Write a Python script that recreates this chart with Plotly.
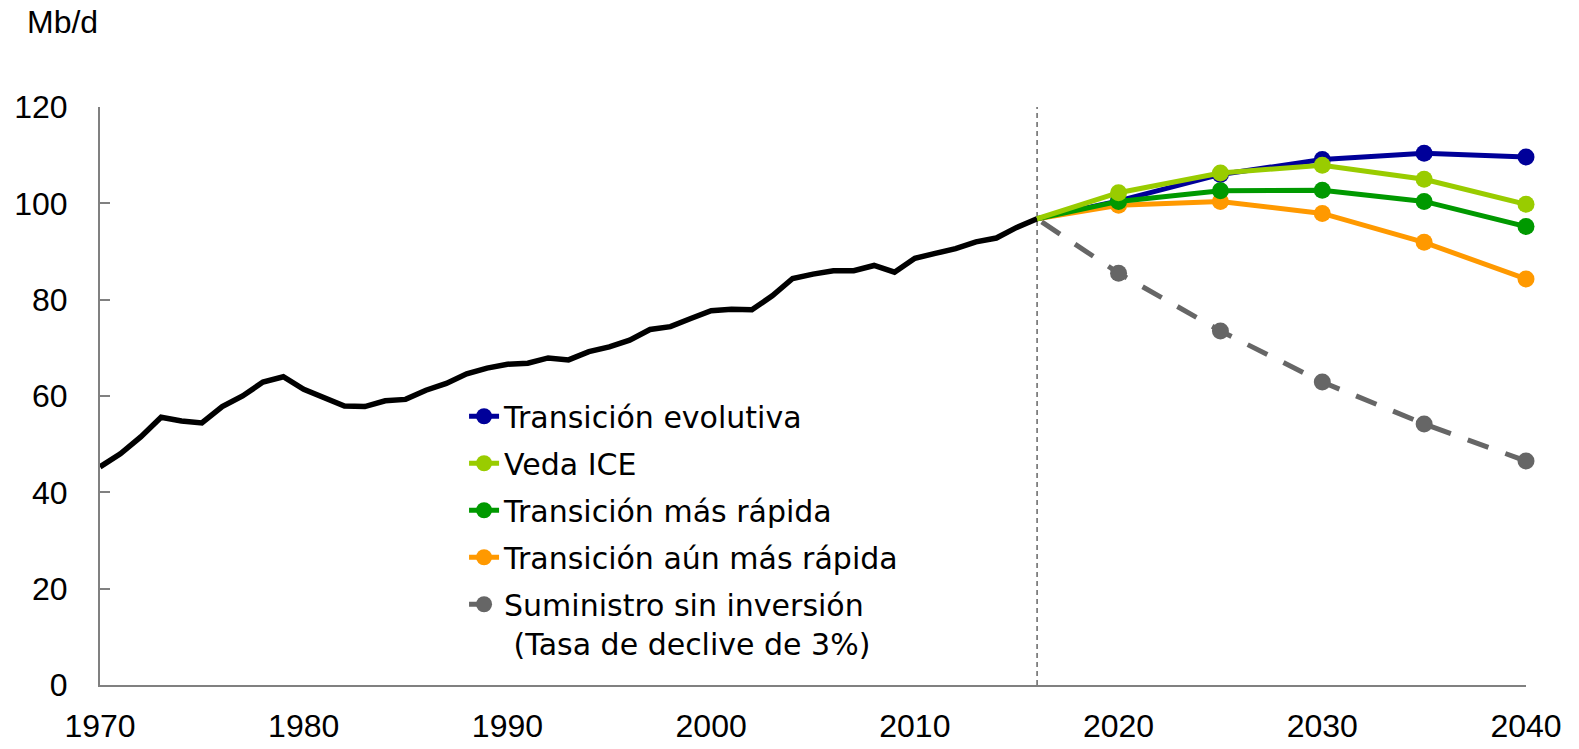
import plotly.graph_objects as go

hist_years = list(range(1970, 2017))
hist_values = [45.3, 48.0, 51.5, 55.6, 54.8, 54.4, 57.8, 60.0, 62.9, 64.0,
               61.4, 59.5, 57.9, 57.8, 59.0, 59.3, 61.2, 62.6, 64.6, 65.8,
               66.6, 66.8, 67.9, 67.5, 69.2, 70.2, 71.6, 73.8, 74.4, 76.1,
               77.7, 78.0, 77.9, 80.8, 84.4, 85.3, 86.0, 86.0, 87.1, 85.7,
               88.6, 89.6, 90.6, 92.0, 92.8, 95.0, 96.8]

proj_years = [2016, 2020, 2025, 2030, 2035, 2040]
evolutiva = [96.8, 100.5, 106.0, 109.1, 110.4, 109.6]
veda_ice = [96.8, 102.2, 106.3, 107.9, 105.0, 99.8]
mas_rapida = [96.8, 100.4, 102.6, 102.7, 100.4, 95.2]
aun_mas_rapida = [96.8, 99.6, 100.4, 97.9, 91.9, 84.3]
sin_inversion = [96.8, 85.5, 73.5, 62.9, 54.2, 46.5]

series_names = ["Transición evolutiva", "Veda ICE", "Transición más rápida",
                "Transición aún más rápida",
                "Suministro sin inversión<br> (Tasa de declive de 3%)"]
series_values = [evolutiva, veda_ice, mas_rapida, aun_mas_rapida, sin_inversion]
series_colors = ["#000099", "#99CC00", "#009900", "#FF9900", "#666666"]

x_ticks = [1970, 1980, 1990, 2000, 2010, 2020, 2030, 2040]
y_ticks = [0, 20, 40, 60, 80, 100, 120]

fig = go.Figure()

fig.add_trace(go.Scatter(x=hist_years, y=hist_values, mode="lines",
                         line=dict(color="black", width=5.5), showlegend=False,
                         cliponaxis=False))

# draw order: grey first so coloured lines sit on top; legend order via legendrank
order = [4, 0, 3, 2, 1]
for i in order:
    color = series_colors[i]
    dash = "22px,18px" if i == 4 else "solid"
    # reversed so the legend takes its marker colour from a visible point;
    # the start year (last here) carries no visible marker
    xs = proj_years[::-1]
    ys = series_values[i][::-1]
    mcolors = [color] * (len(xs) - 1) + ["rgba(0,0,0,0)"]
    fig.add_trace(go.Scatter(
        x=xs, y=ys, mode="lines+markers",
        name=series_names[i], legendrank=i + 1, legendgroup=f"g{i}",
        line=dict(color=color, width=5, dash=dash),
        marker=dict(color=mcolors, size=17, opacity=1, line=dict(width=0)),
        cliponaxis=False))

fig.add_shape(type="line", x0=2016, x1=2016, y0=0, y1=120, xref="x", yref="y",
              line=dict(color="#666666", width=1.5, dash="5px,4px"), layer="below")

fig.add_annotation(text="Mb/d", xref="paper", yref="paper", x=0, y=1,
                   xanchor="right", yanchor="middle", xshift=0, yshift=85,
                   showarrow=False,
                   font=dict(family="Liberation Sans", size=32, color="black"))

fig.update_layout(
    width=1579, height=749,
    margin=dict(l=100, r=53, t=107, b=64),
    plot_bgcolor="white", paper_bgcolor="white",
    font=dict(family="Liberation Sans", size=32, color="black"),
    legend=dict(x=0.2553, y=0.510, xanchor="left", yanchor="top", valign="top",
                bgcolor="rgba(0,0,0,0)", tracegroupgap=5,
                font=dict(family="DejaVu Sans", size=30, color="black")),
    xaxis=dict(range=[1970, 2040], tickvals=x_ticks, showgrid=False,
               zeroline=False, showline=True, linecolor="#808080", linewidth=2,
               ticks="", ticklabelstandoff=12, automargin=False),
    yaxis=dict(range=[0, 120], tickvals=y_ticks, showgrid=False, zeroline=False,
               showline=True, linecolor="#808080", linewidth=2,
               ticks="inside", ticklen=10, tickcolor="#808080", tickwidth=2,
               ticklabelstandoff=24, automargin=False),
)

fig.write_html("out.html", config={"displayModeBar": False},
               post_script="document.body.style.margin='0';"
                           "document.body.style.overflow='hidden';")
